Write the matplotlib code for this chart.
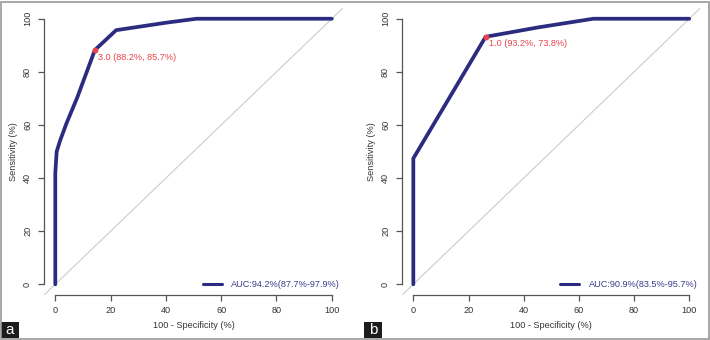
import matplotlib.pyplot as plt
from matplotlib.patches import Rectangle

plt.rcParams['font.family'] = ['Liberation Sans', 'DejaVu Sans']

# ROC curves (x = 100 - specificity, y = sensitivity), in %
fpr_a = [0, 0, 0.5, 1.7, 4, 8, 14.3, 22, 40, 51, 100]
tpr_a = [0, 41.8, 50, 54, 60.5, 70.5, 88.2, 95.7, 98.5, 100, 100]
fpr_b = [0, 0, 26.2, 45, 65.2, 100]
tpr_b = [0, 47.4, 93.2, 96.7, 100, 100]

# best cut-offs: threshold, sensitivity, specificity
cut_a = ("3.0", 88.2, 85.7)
cut_b = ("1.0", 93.2, 73.8)

auc_a = "AUC:94.2%(87.7%-97.9%)"
auc_b = "AUC:90.9%(83.5%-95.7%)"

ticks = [0, 20, 40, 60, 80, 100]

navy = '#2b2c80'
red = '#e8434a'
axcol = '#555555'
fs = 6.6

fig = plt.figure(figsize=(7.1, 3.4), dpi=100)

axes_pos = [[0.0623, 0.1326, 0.4206, 0.8435],
            [0.5666, 0.1326, 0.4197, 0.8435]]

panels = [(fpr_a, tpr_a, cut_a, auc_a, 'a'),
          (fpr_b, tpr_b, cut_b, auc_b, 'b')]

for pos, (fx, ty, cut, auc, tag) in zip(axes_pos, panels):
    ax = fig.add_axes(pos)
    ax.set_xlim(-4, 104)
    ax.set_ylim(-4, 104)

    # chance line over the whole plot region
    ax.plot([-4, 104], [-4, 104], color='#cccccc', linewidth=0.8, zorder=1)

    ax.plot(fx, ty, color=navy, linewidth=2.7, solid_capstyle='round',
            solid_joinstyle='round', label=auc, zorder=2)

    thr, sens, spec = cut
    ax.plot(100 - spec, sens, 'o', color=red, markersize=3.2, zorder=3)
    ax.annotate(f"{thr} ({sens}%, {spec}%)", (100 - spec, sens),
                xytext=(2.5, -5), textcoords='offset points',
                ha='left', va='center', color=red, fontsize=fs)

    leg = ax.legend(loc='center right', bbox_to_anchor=(0.99, 0.037),
                    frameon=False, fontsize=fs, handlelength=2.1,
                    handletextpad=1.0, borderpad=0, borderaxespad=0,
                    labelcolor='#3d3d8a')
    for ln in leg.get_lines():
        ln.set_linewidth(2.2)

    for s in ['top', 'right']:
        ax.spines[s].set_visible(False)
    for s in ['left', 'bottom']:
        ax.spines[s].set_color(axcol)
        ax.spines[s].set_linewidth(0.9)
        ax.spines[s].set_bounds(0, 100)

    ax.set_xticks(ticks)
    ax.set_yticks(ticks)
    ax.tick_params(axis='both', colors=axcol, labelcolor='#333333',
                   labelsize=fs, length=4.3, width=0.9)
    ax.tick_params(axis='x', pad=4)
    ax.tick_params(axis='y', pad=4.5)
    for lab in ax.get_yticklabels():
        lab.set_rotation(90)
        lab.set_va('center')

    ax.set_xlabel("100 - Specificity (%)", fontsize=fs, color='#333333',
                  labelpad=4)
    ax.set_ylabel("Sensitivity (%)", fontsize=fs, color='#333333',
                  labelpad=3.5)

# panel tags
for x0, tag in [(1, 'a'), (364, 'b')]:
    fig.patches.append(Rectangle((x0 / 710, 2 / 340), 18 / 710, 16 / 340,
                                 transform=fig.transFigure,
                                 facecolor='#1c1c1c', edgecolor='none'))
    fig.text((x0 + 9) / 710, 10 / 340, tag, color='white', fontsize=11,
             ha='center', va='center')

# outer frame
fig.patches.append(Rectangle((0.5 / 710, 1.5 / 340), 708.5 / 710, 337 / 340,
                             transform=fig.transFigure, fill=False,
                             edgecolor='#999999', linewidth=1.2))

fig.savefig('out.png', dpi=100)
